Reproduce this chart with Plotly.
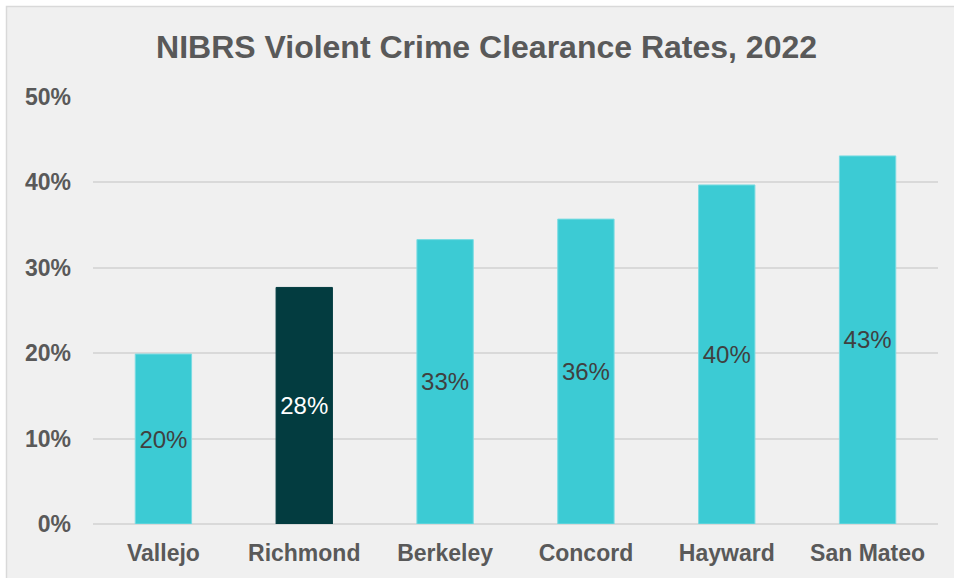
import plotly.graph_objects as go

# Violent crime clearance rates by city (NIBRS, 2022)
cities = ["Vallejo", "Richmond", "Berkeley", "Concord", "Hayward", "San Mateo"]
clearance_rates = [0.199, 0.277, 0.333, 0.357, 0.397, 0.431]
highlight_city = "Richmond"

y_ticks = [0, 0.1, 0.2, 0.3, 0.4, 0.5]
y_tick_labels = ["0%", "10%", "20%", "30%", "40%", "50%"]

TEAL = "#3ccbd4"
DARK = "#033c40"
FONT = "Liberation Sans, Arial, sans-serif"

bar_colors = [DARK if c == highlight_city else TEAL for c in cities]
text_colors = ["#ffffff" if c == highlight_city else "#404040" for c in cities]
edge_colors = [DARK if c == highlight_city else "#7adbe2" for c in cities]

W, H = 954, 578
L, R, T, B = 93, 16, 97, 54
plot_w = W - L - R
plot_h = H - T - B


def px_x(x):
    return (x - L) / plot_w


def px_y(y):
    return (H - B - y) / plot_h


fig = go.Figure(
    go.Bar(
        x=cities,
        y=clearance_rates,
        marker=dict(color=bar_colors, line=dict(color=edge_colors, width=1)),
        texttemplate="%{y:.0%}",
        textposition="inside",
        insidetextanchor="middle",
        textangle=0,
        textfont=dict(family=FONT, size=24, color=text_colors),
        hoverinfo="skip",
    )
)

# chart frame: light grey panel with a thin border
fig.add_shape(
    type="rect", xref="paper", yref="paper", layer="below",
    x0=px_x(6.5), x1=px_x(W + 10), y0=px_y(H + 10), y1=px_y(6.5),
    fillcolor="#f0f0f0", line=dict(color="#d9d9d9", width=1.5),
)

fig.update_layout(
    width=W,
    height=H,
    margin=dict(l=L, r=R, t=T, b=B),
    paper_bgcolor="#ffffff",
    plot_bgcolor="rgba(0,0,0,0)",
    bargap=0.6,
    showlegend=False,
    font=dict(family=FONT, color="#595959"),
    title=dict(
        text="<b>NIBRS Violent Crime Clearance Rates, 2022</b>",
        xref="container", x=0.51, xanchor="center",
        yref="container", y=1 - 47 / H, yanchor="middle",
        font=dict(family=FONT, size=32, color="#595959"),
    ),
    xaxis=dict(
        showgrid=False,
        showline=False,
        ticks="",
        tickfont=dict(family=FONT, size=23, color="#595959", weight="bold"),
        ticklabelstandoff=13,
    ),
    yaxis=dict(
        range=[0, 0.5],
        tickvals=y_ticks,
        ticktext=y_tick_labels,
        showgrid=True,
        gridcolor="#d9d9d9",
        gridwidth=1.5,
        zeroline=True,
        zerolinecolor="#d9d9d9",
        zerolinewidth=1.5,
        showline=False,
        ticks="",
        tickfont=dict(family=FONT, size=23, color="#595959", weight="bold"),
        ticklabelstandoff=21,
    ),
)

fig.write_html("out.html")
